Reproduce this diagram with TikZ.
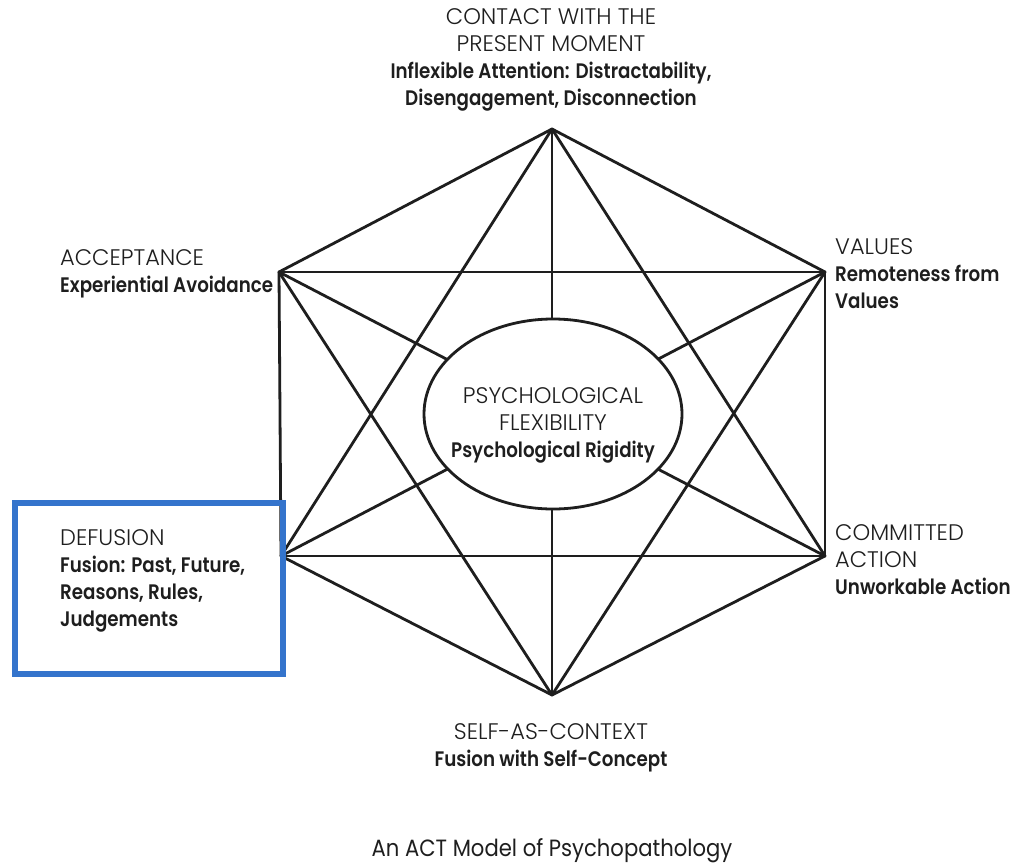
\documentclass[tikz,border=0pt]{standalone}
\usepackage{fontspec}
\setmainfont{Poppins}
\newfontfamily\capF{Poppins Light}[FakeStretch=1.0]
\newfontfamily\boldF{Poppins SemiBold}[FakeStretch=0.87]
\newfontfamily\titleF{Poppins}[FakeStretch=0.9]
\usetikzlibrary{shapes.geometric}
\definecolor{boxblue}{RGB}{52,116,204}
\definecolor{ink}{RGB}{30,30,30}
\newcommand{\capT}{\capF\fontsize{22.5}{27}\selectfont}
\newcommand{\boldT}{\boldF\fontsize{21}{27}\selectfont}
\begin{document}
\begin{tikzpicture}[x=1pt,y=-1pt,
  edge/.style={line width=2.8pt, line cap=round, draw=ink},
  lblL/.style={inner sep=0pt, align=left, anchor=west, text=ink, font=\fontsize{21}{27}\selectfont},
  lblC/.style={inner sep=0pt, align=center, anchor=center, text=ink, font=\fontsize{21}{27}\selectfont}]
\useasboundingbox (0,0) rectangle (1011,867);
\fill[white] (0,0) rectangle (1011,867);
\coordinate (T) at (552,129);
\coordinate (UL) at (279,272);
\coordinate (UR) at (825,272);
\coordinate (LL) at (281,556);
\coordinate (LR) at (825,556);
\coordinate (B) at (552,695);
\foreach \a/\b in {T/UL,T/UR,T/LL,T/LR,T/B,UL/UR,UL/LL,UL/LR,UL/B,UR/LL,UR/LR,UR/B,LL/LR,LL/B,LR/B}
  \draw[edge] (\a) -- (\b);
\node[ellipse, draw=ink, fill=white, line width=2.8pt, inner sep=0pt,
      minimum width=258pt, minimum height=190pt] (C) at (553,414) {};
\node[lblC] (ctext) at (553,425) {\capT PSYCHOLOGICAL\\\capT FLEXIBILITY\\\boldT Psychological Rigidity};
\node[lblC] (tlab) at (551,60) {\capT CONTACT WITH THE\\\capT PRESENT MOMENT\\\boldT Inflexible Attention: Distractability,\\\boldT Disengagement, Disconnection};
\node[lblL] (ullab) at (60,274) {\capT ACCEPTANCE\\\boldT Experiential Avoidance};
\node[lblL] (urlab) at (835,274) {\capT VALUES\\\boldT Remoteness from\\\boldT Values};
\node[lblL] (lllab) at (60,581) {\capT DEFUSION\\\boldT Fusion: Past, Future,\\\boldT Reasons, Rules,\\\boldT Judgements};
\node[lblL] (lrlab) at (835,560) {\capT COMMITTED\\\capT ACTION\\\boldT Unworkable Action};
\node[lblC] (blab) at (551,748) {\capT SELF-AS-CONTEXT\\\boldT Fusion with Self-Concept};
\node[inner sep=0pt, text=ink, font=\titleF\fontsize{23.5}{28}\selectfont] (title) at (552,851) {An ACT Model of Psychopathology};
\draw[boxblue, line width=6pt] (15,503) rectangle (283,674);
\end{tikzpicture}
\end{document}
